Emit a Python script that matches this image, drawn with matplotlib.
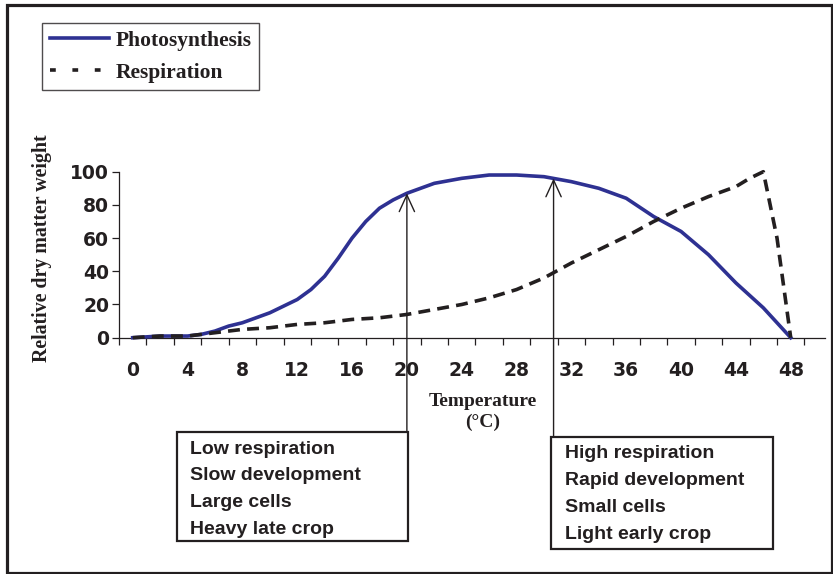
import numpy as np
import matplotlib
matplotlib.use("Agg")
import matplotlib.pyplot as plt
from matplotlib.lines import Line2D
from matplotlib.patches import Rectangle

# data
photo_temp = [0, 2, 4, 5, 6, 7, 8, 9, 10, 11, 12, 13, 14, 15, 16, 17, 18, 19, 20,
              22, 24, 26, 28, 30, 32, 34, 36, 38, 40, 42, 44, 46, 48]
photo_vals = [0, 1, 1, 2, 4, 7, 9, 12, 15, 19, 23, 29, 37, 48, 60, 70, 78, 83, 87,
              93, 96, 98, 98, 97, 94, 90, 84, 73, 64, 50, 33, 18, 0]

resp_temp = [0, 2, 4, 6, 8, 10, 12, 14, 16, 18, 20, 22, 24, 26, 28, 30, 32, 34,
             36, 38, 40, 42, 44, 45, 46, 47, 48]
resp_vals = [0, 1, 1, 3, 5, 6, 8, 9, 11, 12, 14, 17, 20, 24, 29, 36, 45, 53,
             61, 70, 78, 85, 91, 96, 100, 60, 0]

x_labels = list(range(0, 49, 4))
y_ticks = [0, 20, 40, 60, 80, 100]

arrow_temps = [20, 30.7]
box_lines = [["Low respiration", "Slow development", "Large cells", "Heavy late crop"],
             ["High respiration", "Rapid development", "Small cells", "Light early crop"]]

W, H = 833, 574
def fx(x):
    return x / W
def fy(y):
    return 1 - y / H

blue = "#2e3192"
ink = "#231f20"
serif = "Liberation Serif"
sans = "Liberation Sans"

fig = plt.figure(figsize=(W / 100, H / 100), dpi=100)
ax = fig.add_axes([fx(119), fy(337.7), (825 - 119) / W, (337.7 - 171.7) / H])

ax.plot(photo_temp, photo_vals, color=blue, lw=2.6, clip_on=False, zorder=3,
        solid_joinstyle="round")
ax.plot(resp_temp, resp_vals, color=ink, lw=2.6, dashes=(3.3, 2.0), clip_on=False, zorder=3)

ax.set_xlim(-1, 50.5)
ax.set_ylim(0, 100)
for s in ["top", "right"]:
    ax.spines[s].set_visible(False)
for s in ["left", "bottom"]:
    ax.spines[s].set_color(ink)
    ax.spines[s].set_linewidth(0.9)

ax.set_xticks(np.arange(-1, 50, 2))
ax.set_xticklabels([])
ax.set_xticks(x_labels, [str(v) for v in x_labels], minor=True)
ax.tick_params(axis="x", which="major", direction="out", length=5, width=0.9, color=ink)
ax.tick_params(axis="x", which="minor", length=0, pad=17)
ax.set_yticks(y_ticks, [str(v) for v in y_ticks])
ax.tick_params(axis="y", direction="out", length=5, width=0.9, color=ink, pad=2)
for lab in ax.get_xticklabels(minor=True) + ax.get_yticklabels():
    lab.set_fontfamily("DejaVu Sans")
    lab.set_fontweight("bold")
    lab.set_fontsize(13.5)
    lab.set_color(ink)

# axis titles
fig.text(fx(42), fy(248), "Relative dry matter weight", rotation=90, ha="center", va="center",
         fontfamily=serif, fontweight="bold", fontsize=14.3, color=ink)
fig.text(fx(483), fy(412), "Temperature\n(°C)", ha="center", va="center", linespacing=1.25,
         fontfamily=serif, fontweight="bold", fontsize=14, color=ink)

# legend
handles = [Line2D([], [], color=blue, lw=2.6),
           Line2D([], [], color=ink, lw=2.6, dashes=(1.6, 4.6))]
leg = fig.legend(handles, ["Photosynthesis", "Respiration"], loc="upper left",
                 bbox_to_anchor=(fx(42), fy(23)), borderaxespad=0, fancybox=False,
                 frameon=True, handlelength=2.75, handletextpad=0.3, labelspacing=0.55,
                 borderpad=0.35, prop={"family": serif, "weight": "bold", "size": 15.5})
leg.get_frame().set_edgecolor(ink)
leg.get_frame().set_linewidth(1.0)
for t in leg.get_texts():
    t.set_color(ink)

# arrows from the boxes up to the curve
box_tops = [432, 437]
for t, top in zip(arrow_temps, box_tops):
    yv = np.interp(t, photo_temp, photo_vals)
    ax.annotate("", xy=(t, yv), xycoords="data", xytext=(t, fy(top)),
                textcoords=("data", "figure fraction"),
                arrowprops=dict(arrowstyle="->,head_length=1.2,head_width=0.55",
                                lw=1.0, color=ink, shrinkA=0, shrinkB=0))

# text boxes
boxes = [(177, 432, 408, 541, 190, 449), (551, 437, 773, 549, 565, 454)]
for (x0, y0, x1, y1, tx, ty), lines in zip(boxes, box_lines):
    fig.patches.append(Rectangle((fx(x0), fy(y1)), (x1 - x0) / W, (y1 - y0) / H,
                                 transform=fig.transFigure, fill=True, facecolor="white",
                                 edgecolor=ink, lw=1.6, zorder=5))
    for i, line in enumerate(lines):
        fig.text(fx(tx), fy(ty + i * 26.7), line, ha="left", va="center",
                 fontfamily=sans, fontweight="bold", fontsize=14, color=ink, zorder=6)

# outer frame
fig.patches.append(Rectangle((fx(6.5), fy(573)), (831.5 - 6.5) / W, (573 - 5) / H,
                             transform=fig.transFigure, fill=False, edgecolor=ink, lw=2.3))

fig.savefig("out.png", dpi=100)
